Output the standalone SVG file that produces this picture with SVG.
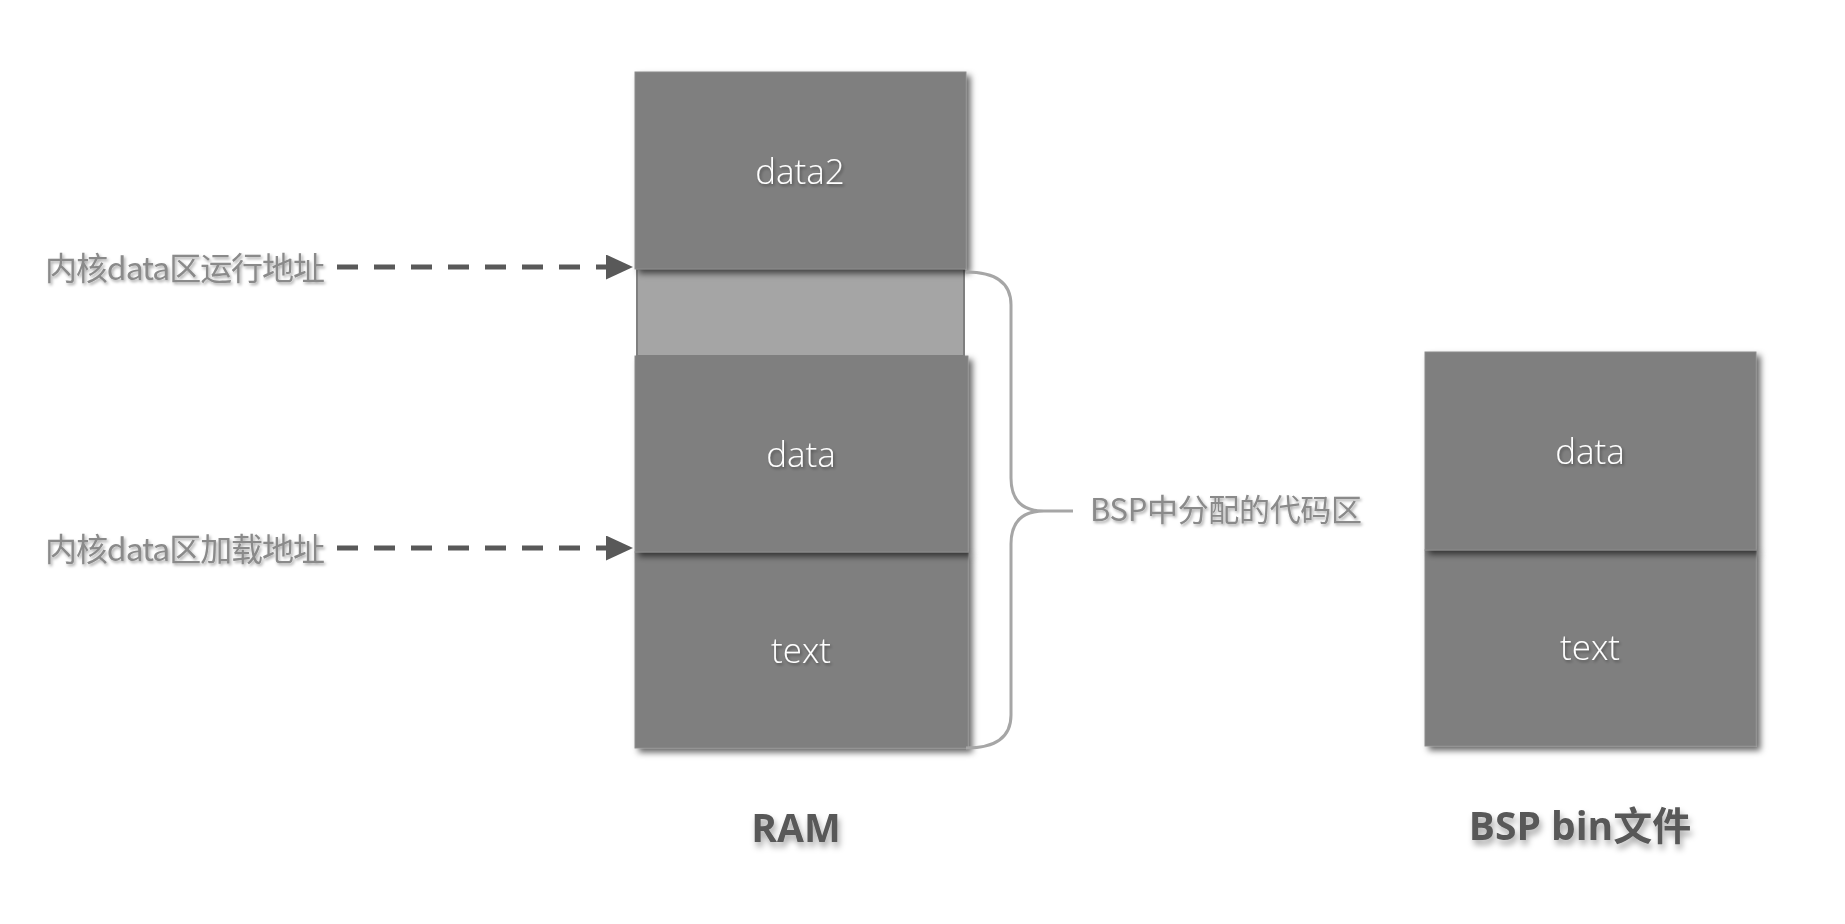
<svg xmlns="http://www.w3.org/2000/svg" width="1845" height="924" viewBox="0 0 1845 924">
<defs>
<filter id="boxShadow" x="-10%" y="-10%" width="125%" height="130%">
<feDropShadow dx="4" dy="4" stdDeviation="3" flood-color="#000" flood-opacity="0.6"/>
</filter>
<filter id="txtShadow" x="-10%" y="-30%" width="120%" height="160%">
<feDropShadow dx="1.5" dy="2" stdDeviation="1.5" flood-color="#000" flood-opacity="0.35"/>
</filter>
<filter id="titleShadow" x="-20%" y="-40%" width="140%" height="200%">
<feDropShadow dx="2" dy="5" stdDeviation="3" flood-color="#000" flood-opacity="0.35"/>
</filter>
<marker id="arrow" viewBox="0 0 27 25" refX="0" refY="12.5" markerWidth="27" markerHeight="25" markerUnits="userSpaceOnUse" orient="auto">
<path d="M0,0 L27,12.5 L0,25 z" fill="#595959"/>
</marker>
</defs>
<style>
.box{fill:#7f7f7f;stroke:#8c8c8c;stroke-width:1;filter:url(#boxShadow);}
.light{fill:#a5a5a5;stroke:#7f7f7f;stroke-width:2;}
.boxtxt{font-family:"Open Sans","Noto Sans",sans-serif;font-weight:300;font-size:35px;fill:#ffffff;text-anchor:middle;filter:url(#txtShadow);}
.label{font-family:"Noto Sans CJK SC","Noto Sans",sans-serif;font-weight:400;fill:#8a8a8a;filter:url(#txtShadow);}
.title{font-family:"Open Sans","Noto Sans CJK SC",sans-serif;font-weight:700;font-size:39px;fill:#595959;text-anchor:middle;filter:url(#titleShadow);}
.dash{stroke:#595959;stroke-width:5;stroke-dasharray:21 16;fill:none;marker-end:url(#arrow);}
.brace{stroke:#a6a6a6;stroke-width:3;fill:none;}
</style>
<rect width="1845" height="924" fill="#ffffff"/>

<g id="ram-text">
<rect class="box" x="635" y="552" width="333" height="196"/>
<text class="boxtxt" x="801" y="663">text</text>
</g>
<g id="ram-data">
<rect class="box" x="635" y="356" width="333" height="196"/>
<text class="boxtxt" x="801" y="467">data</text>
</g>
<g id="ram-gap">
<rect class="light" x="637" y="269" width="327" height="87"/>
</g>
<g id="ram-data2">
<rect class="box" x="635" y="72" width="331" height="197"/>
<text class="boxtxt" x="800" y="184">data2</text>
</g>
<g id="ram-title">
<text class="title" x="796" y="842">RAM</text>
</g>

<g id="bsp-text">
<rect class="box" x="1425" y="550" width="331" height="196"/>
<text class="boxtxt" x="1590" y="660">text</text>
</g>
<g id="bsp-data">
<rect class="box" x="1425" y="352" width="331" height="198"/>
<text class="boxtxt" x="1590" y="464">data</text>
</g>
<g id="bsp-title">
<text class="title" x="1580" y="840">BSP bin文件</text>
</g>

<g id="label-run">
<text class="label" x="45" y="280" font-size="32" textLength="280" lengthAdjust="spacing">内核data区运行地址</text>
</g>
<g id="label-load">
<text class="label" x="45" y="561" font-size="32" textLength="280" lengthAdjust="spacing">内核data区加载地址</text>
</g>
<g id="label-bsp">
<text class="label" x="1090" y="521" font-size="31" textLength="272" lengthAdjust="spacing">BSP中分配的代码区</text>
</g>

<g id="connectors">
<line class="dash" x1="337" y1="267" x2="606" y2="267"/>
<line class="dash" x1="337" y1="548" x2="606" y2="548"/>
<path class="brace" d="M966 272 C995 272 1011 282 1011 305 L1011 478 C1011 500 1022 511 1044 511 L1073 511 M1044 511 C1022 511 1011 522 1011 544 L1011 715 C1011 738 995 748 966 748"/>
</g>
</svg>
